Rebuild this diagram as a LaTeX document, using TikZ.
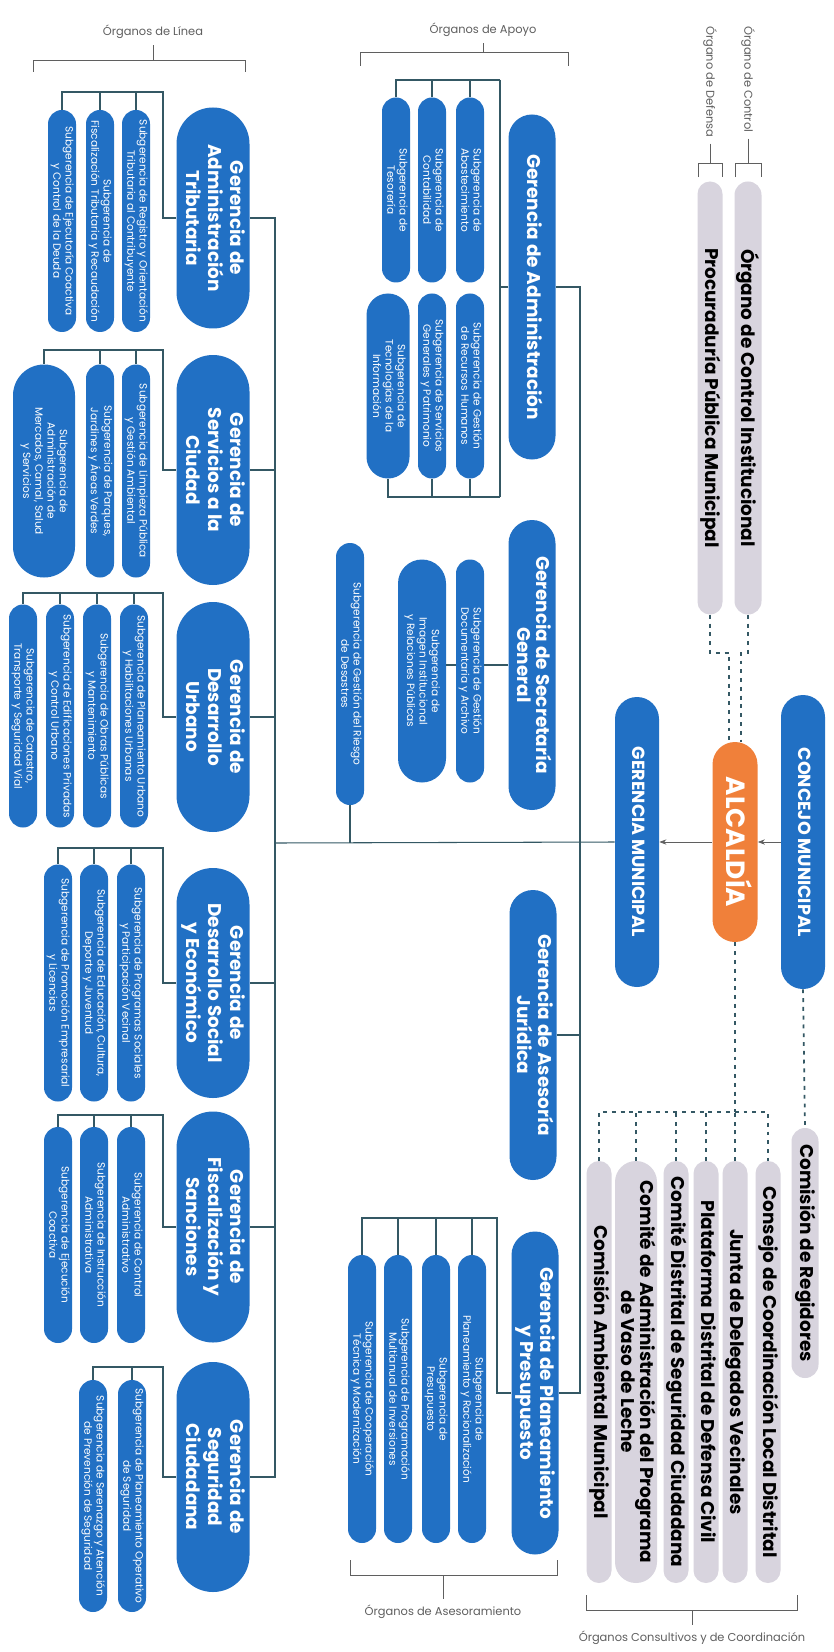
\documentclass[tikz,border=0pt]{standalone}
\usepackage{fontspec}
\setmainfont{Poppins}
\usepackage{graphicx}
\usetikzlibrary{calc,arrows.meta}

\definecolor{azul}{RGB}{33,112,196}
\definecolor{naranja}{RGB}{240,128,58}
\definecolor{gris}{RGB}{216,212,222}
\definecolor{trazo}{RGB}{52,88,100}
\definecolor{tenue}{RGB}{95,95,95}

\newcommand{\vtxt}[1]{\rotatebox{-90}{\begin{tabular}{@{}c@{}}#1\end{tabular}}}

\tikzset{
  pildora/.style={rectangle, inner sep=0pt, minimum width=#1*0.02cm, rounded corners=#1*0.01cm},
  largo/.style={minimum height=#1*0.02cm},
  gerencia/.style={pildora=73, fill=azul, text=white, font=\bfseries\fontsize{10.5}{12.5}\selectfont},
  apoyo/.style={pildora=47, fill=azul, text=white, font=\bfseries\fontsize{10.5}{11}\selectfont},
  subg/.style={pildora=28, fill=azul, text=white, font=\fontsize{6}{7}\selectfont},
  cabeza/.style={pildora=44, fill=azul, text=white, font=\bfseries\fontsize{10}{12}\selectfont},
  consult/.style={pildora=25, fill=gris, text=black, font=\bfseries\fontsize{10.5}{11}\selectfont},
  conector/.style={draw=trazo, line width=0.6pt},
  punteada/.style={draw=trazo, line width=1pt, dash pattern=on 2.2pt off 2.8pt},
  flecha/.style={draw=tenue, line width=0.4pt, -{Stealth[length=4pt,width=3pt]}},
  llave/.style={draw=tenue, line width=0.4pt},
  rotulo/.style={text=tenue, font=\fontsize{6.5}{7.5}\selectfont},
}

\begin{document}
\begin{tikzpicture}[x=0.02cm,y=-0.02cm]
\fill[white] (0,0) rectangle (833,1652);
\useasboundingbox (0,0) rectangle (833,1652);

% alcaldia y concejo
\node[cabeza, largo=294] (concejo) at (803,842) {\vtxt{CONCEJO MUNICIPAL}};
\node[pildora=45, largo=200, fill=naranja, text=white, font=\bfseries\fontsize{15}{17}\selectfont] (alcaldia) at (735,842) {\vtxt{ALCALDÍA}};
\node[cabeza, largo=290] (gm) at (637,842) {\vtxt{GERENCIA MUNICIPAL}};
\draw[flecha] (concejo.west) -- (alcaldia.east);
\draw[flecha] (alcaldia.west) -- (gm.east);

% control y defensa
\node[consult, pildora=27, largo=433] (oci) at (748,398) {\vtxt{Órgano de Control Institucional}};
\node[consult, largo=433] (ppm) at (710,398) {\vtxt{Procuraduría Pública Municipal}};
\node[rotulo, anchor=north] (lcontrol) at (748,20) {\rotatebox{-90}{Órgano de Control}};
\node[rotulo, anchor=north] (ldefensa) at (710,20) {\rotatebox{-90}{Órgano de Defensa}};
\draw[llave] (lcontrol.south) -- ($(oci.north)+(0,-18)$);
\draw[llave] ($(oci.north)+(-13,-4)$) -- ++(0,-14) -- ++(26,0) -- ++(0,14);
\draw[llave] (ldefensa.south) -- ($(ppm.north)+(0,-18)$);
\draw[llave] ($(ppm.north)+(-12,-4)$) -- ++(0,-14) -- ++(24,0) -- ++(0,14);
\draw[punteada] (ppm.south) -- ++(0,38) -| ($(alcaldia.north)+(-6,0)$);
\draw[punteada] (oci.south) -- ++(0,38) -| ($(alcaldia.north)+(6,0)$);

% organos de linea
\node[rotulo] (tlinea) at (153,32) {Órganos de Línea};
\draw[llave] (33,72) -- (33,60) -- (245,60) -- (245,72);
\draw[llave] (153,60) -- (tlinea.south);

\node[gerencia, largo=221] (gat) at (213,218) {\vtxt{Gerencia de\\Administración\\Tributaria}};
\node[gerencia, largo=230] (gsc) at (213,470) {\vtxt{Gerencia de\\Servicios a la\\Ciudad}};
\node[gerencia, largo=230] (gdu) at (213,717) {\vtxt{Gerencia de\\Desarrollo\\Urbano}};
\node[gerencia, largo=230] (gdse) at (213,983) {\vtxt{Gerencia de\\Desarrollo Social\\y Económico}};
\node[gerencia, largo=231] (gfs) at (213,1227) {\vtxt{Gerencia de\\Fiscalización y\\Sanciones}};
\node[gerencia, largo=230] (gsci) at (213,1477) {\vtxt{Gerencia de\\Seguridad\\Ciudadana}};

\node[subg, largo=222] (at1) at (136,221) {\vtxt{Subgerencia de Registro y Orientación\\Tributaria al Contribuyente}};
\node[subg, largo=222] (at2) at (100,221) {\vtxt{Subgerencia de\\Fiscalización Tributaria y Recaudación}};
\node[subg, largo=222] (at3) at (62,221) {\vtxt{Subgerencia de Ejecutoría Coactiva\\y Control de la Deuda}};

\node[subg, largo=213] (sc1) at (136,471) {\vtxt{Subgerencia de Limpieza Pública\\y Gestión Ambiental}};
\node[subg, largo=213] (sc2) at (100,471) {\vtxt{Subgerencia de Parques,\\Jardines y Áreas Verdes}};
\node[subg, pildora=62, largo=213] (sc3) at (44,471) {\vtxt{Subgerencia de\\Administración de\\Mercados, Camal, Salud\\y Servicios}};

\node[subg, largo=223] (du1) at (134,716) {\vtxt{Subgerencia de Planeamiento Urbano\\y Habilitaciones Urbanas}};
\node[subg, largo=223] (du2) at (97,716) {\vtxt{Subgerencia de Obras Públicas\\y Mantenimiento}};
\node[subg, largo=223] (du3) at (60,716) {\vtxt{Subgerencia de Edificaciones Privadas\\y Control Urbano}};
\node[subg, largo=223] (du4) at (23,716) {\vtxt{Subgerencia de Catastro,\\Transporte y Seguridad Vial}};

\node[subg, largo=237] (ds1) at (131,983) {\vtxt{Subgerencia de Programas Sociales\\y Participación Vecinal}};
\node[subg, largo=237] (ds2) at (94,983) {\vtxt{Subgerencia de Educación, Cultura,\\Deporte y Juventud}};
\node[subg, largo=237] (ds3) at (58,983) {\vtxt{Subgerencia de Promoción Empresarial\\y Licencias}};

\node[subg, largo=216] (fs1) at (131,1235) {\vtxt{Subgerencia de Control\\Administrativo}};
\node[subg, largo=216] (fs2) at (94,1235) {\vtxt{Subgerencia de Instrucción\\Administrativa}};
\node[subg, largo=216] (fs3) at (58,1235) {\vtxt{Subgerencia de Ejecución\\Coactiva}};

\node[subg, largo=232] (sg1) at (132,1496) {\vtxt{Subgerencia de Planeamiento Operativo\\de Seguridad}};
\node[subg, largo=232] (sg2) at (93,1496) {\vtxt{Subgerencia de Serenazgo y Atención\\de Prevención de Seguridad}};

\coordinate (lin) at (275,843);
\foreach \g in {gat,gsc,gdu,gdse,gfs,gsci}
  \draw[conector] (\g.east) -| (lin);
\draw[conector] (gm.west) -- (lin);

\coordinate (cat) at (163,92);
\coordinate (csc) at (163,350);
\coordinate (cdu) at (163,593);
\coordinate (cds) at (163,848);
\coordinate (cfs) at (163,1115);
\coordinate (csg) at (163,1367);
\draw[conector] (gat.west) -| (cat) -| (at3.north);
\draw[conector] (gsc.west) -| (csc) -| (sc3.north);
\draw[conector] (gdu.west) -| (cdu) -| (du4.north);
\draw[conector] (gdse.west) -| (cds) -| (ds3.north);
\draw[conector] (gfs.west) -| (cfs) -| (fs3.north);
\draw[conector] (gsci.west) -| (csg) -| (sg2.north);
\foreach \s/\c in {at1/cat,at2/cat,sc1/csc,sc2/csc,du1/cdu,du2/cdu,du3/cdu,ds1/cds,ds2/cds,fs1/cfs,fs2/cfs,sg1/csg}
  \draw[conector] (\s.north) -- (\s.north |- \c);

% organos de apoyo
\node[rotulo] (tapoyo) at (483,30) {Órganos de Apoyo};
\draw[llave] (360,66) -- (360,52) -- (568,52) -- (568,66);
\draw[llave] (483,52) -- (tapoyo.south);

\node[apoyo, largo=345] (ga) at (532,287) {\vtxt{Gerencia de Administración}};
\node[subg, largo=185] (ga1) at (470,190) {\vtxt{Subgerencia de\\Abastecimiento}};
\node[subg, largo=185] (ga2) at (432,190) {\vtxt{Subgerencia de\\Contabilidad}};
\node[subg, largo=185] (ga3) at (396,190) {\vtxt{Subgerencia de\\Tesorería}};
\node[subg, largo=185] (ga4) at (470,386) {\vtxt{Subgerencia de Gestión\\de Recursos Humanos}};
\node[subg, largo=185] (ga5) at (432,386) {\vtxt{Subgerencia de Servicios\\Generales y Patrimonio}};
\node[subg, pildora=43, largo=185] (ga6) at (388,386) {\vtxt{Subgerencia de\\Tecnologías de la\\Información}};
\coordinate (gaN) at (500,80);
\coordinate (gaS) at (500,497);
\draw[conector] (gaN) -- (gaS);
\draw[conector] (ga.west) -- (ga.west -| gaN);
\draw[conector] (gaN) -| (ga3.north);
\draw[conector] (gaS) -| (ga6.south);
\foreach \s in {ga1,ga2}
  \draw[conector] (\s.north) -- (\s.north |- gaN);
\foreach \s in {ga4,ga5}
  \draw[conector] (\s.south) -- (\s.south |- gaS);

\node[apoyo, largo=290] (gsg) at (532,665) {\vtxt{Gerencia de Secretaría\\General}};
\node[subg, largo=223] (sec1) at (470,671) {\vtxt{Subgerencia de Gestión\\Documentaria y Archivo}};
\node[subg, pildora=48, largo=223] (sec2) at (422,671) {\vtxt{Subgerencia de\\Imagen Institucional\\y Relaciones Públicas}};
\draw[conector] (gsg.west) -- (gsg.west -| sec1.east);
\draw[conector] (sec1.west |- gsg.west) -- (gsg.west -| sec2.east);

\node[subg, largo=262] (srd) at (350,674) {\vtxt{Subgerencia de Gestión del Riesgo\\de Desastres}};
\draw[conector] (srd.south) -- (srd.south |- lin);

\node[apoyo, largo=290] (gaj) at (533,1035) {\vtxt{Gerencia de Asesoría\\Jurídica}};

% organos de asesoramiento
\node[apoyo, largo=323] (gpp) at (535,1393) {\vtxt{Gerencia de Planeamiento\\y Presupuesto}};
\node[subg, largo=288] (pp1) at (472,1399) {\vtxt{Subgerencia de\\Planeamiento y Racionalización}};
\node[subg, largo=288] (pp2) at (436,1399) {\vtxt{Subgerencia de\\Presupuesto}};
\node[subg, largo=288] (pp3) at (398,1399) {\vtxt{Subgerencia de Programación\\Multianual de Inversiones}};
\node[subg, largo=288] (pp4) at (362,1399) {\vtxt{Subgerencia de Cooperación\\Técnica y Modernización}};
\coordinate (cpp) at (497,1218);
\draw[conector] (gpp.west) -| (cpp) -| (pp4.north);
\foreach \s in {pp1,pp2,pp3}
  \draw[conector] (\s.north) -- (\s.north |- cpp);
\node[rotulo] (tasesor) at (443,1612) {Órganos de Asesoramiento};
\draw[llave] (350,1560) -- (350,1575) -- (557,1575) -- (557,1560);
\draw[llave] (443,1575) -- (tasesor.north);

\coordinate (apo) at (580,843);
\foreach \g in {ga,gaj,gpp}
  \draw[conector] (\g.east) -| (apo);

% organos consultivos y de coordinacion
\node[consult, pildora=27, largo=250] (creg) at (805,1253) {\vtxt{Comisión de Regidores}};
\node[consult, largo=422] (ccl) at (768,1372) {\vtxt{Consejo de Coordinación Local Distrital}};
\node[consult, largo=422] (jdv) at (735,1372) {\vtxt{Junta de Delegados Vecinales}};
\node[consult, largo=422] (pdc) at (706,1372) {\vtxt{Plataforma Distrital de Defensa Civil}};
\node[consult, largo=422] (cds) at (676,1372) {\vtxt{Comité Distrital de Seguridad Ciudadana}};
\node[consult, pildora=42, largo=422] (pvl) at (636,1372) {\vtxt{Comité de Administración del Programa\\de Vaso de Leche}};
\node[consult, largo=422] (cam) at (599,1372) {\vtxt{Comisión Ambiental Municipal}};
\coordinate (cons) at (735,1112);
\draw[punteada] (alcaldia.south) -- (cons);
\draw[punteada] (cam.north) |- (cons) -| (ccl.north);
\foreach \c in {pvl,cds,pdc,jdv}
  \draw[punteada] (\c.north) -- (\c.north |- cons);
\draw[punteada] (concejo.south) -- (creg.north);
\node[rotulo] (tconsult) at (692,1638) {Órganos Consultivos y de Coordinación};
\draw[llave] (586,1595) -- (586,1610) -- (797,1610) -- (797,1595);
\draw[llave] (692,1610) -- (tconsult.north);
\end{tikzpicture}
\end{document}
